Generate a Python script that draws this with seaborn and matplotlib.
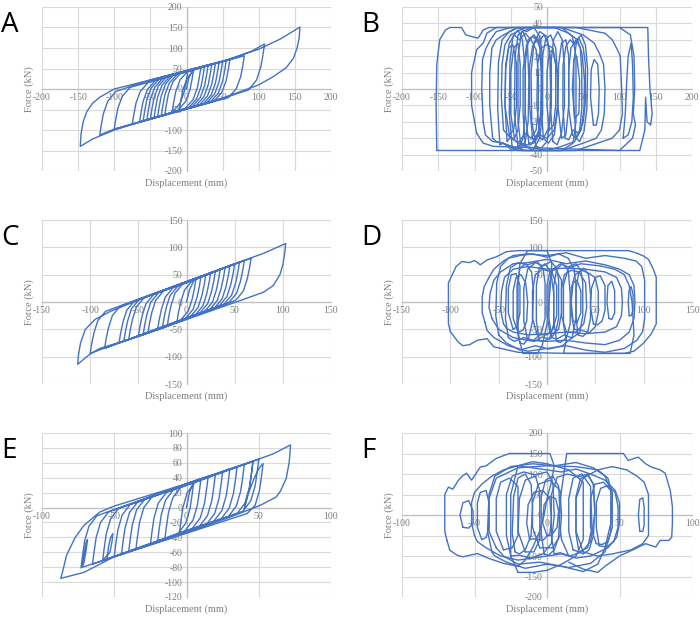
import matplotlib
matplotlib.use('Agg')
import matplotlib.pyplot as plt
import seaborn as sns
import pandas as pd
from matplotlib.ticker import MultipleLocator

# hysteresis traces (displacement mm, force kN)

# A: one continuous trace
a_disp = [
    0, 3, 8, 20,
    18, 15, 9, -2, -30,
    -28, -25, -19, -8, 35,
    33, 30, 24, 13, -55,
    -53, -50, -44, -33, 50,
    48, 45, 39, 28, -20,
    -18, -15, -9, 2, 60,
    58, 55, 49, 38, -75,
    -73, -70, -64, -53, 30,
    28, 25, 19, 8, -100,
    -98, -95, -89, -78, 80,
    78, 75, 69, 58, -45,
    -43, -40, -34, -23, 60, 90, 108,
    106, 103, 97, 86, 50, 0, -50, -100, -120,
    -118, -115, -109, -98, -50, 0, 50, 100, 130, 157,
    156, 153, 148, 138, 120, 100, 50, 0, -50, -100, -130, -147,
    -146, -143, -138, -130, -120, -100, -50, 0, 45,
    43, 40, 34, 23, -65,
    -63, -60, -54, -43, 10,
    8, 5, -1, -12, -35,
    -33, -30, -24, -13, 55,
    53, 50, 44, 33, -10,
    -8, -5, 1, 12, 25,
    23, 20, 14, 3, -50,
    -48, -45, -39, -28, 2,
    0, -3, -9, -20, -40,
    -38, -35, -29, -18, 40,
    38, 35, 29, 18, -60,
    -58, -55, -49, -38, 15,
]
a_force = [
    0, 25, 45, 54,
    31, 3, -26, -48, -63,
    -40, -12, 17, 39, 61,
    38, 10, -19, -41, -76,
    -53, -25, 4, 26, 68,
    45, 17, -12, -34, -58,
    -35, -7, 22, 44, 72,
    49, 21, -8, -30, -86,
    -63, -35, -6, 16, 59,
    36, 8, -21, -43, -98,
    -75, -47, -18, 4, 81,
    58, 30, 1, -21, -71,
    -48, -20, 9, 31, 72, 92, 110,
    85, 55, 22, -2, -23, -48, -73, -98, -112,
    -88, -60, -30, -6, 22, 45, 68, 97, 122, 151,
    125, 100, 75, 52, 30, 10, -22, -48, -73, -100, -122, -140,
    -110, -80, -55, -35, -20, 0, 22, 45, 65,
    42, 14, -15, -37, -81,
    -58, -30, -1, 21, 50,
    27, -1, -30, -52, -66,
    -43, -15, 14, 36, 70,
    47, 19, -10, -32, -53,
    -30, -2, 27, 49, 56,
    33, 5, -24, -46, -73,
    -50, -22, 7, 29, 45,
    22, -6, -35, -57, -68,
    -45, -17, 12, 35, 63,
    40, 12, -17, -39, -78,
    -55, -27, 2, 24, 52,
]

# B: friction loops capped near +/-37.5 kN, one list per loop
b_disp = [
    [-152, -153, -152, -148, -140, -134, -118, -112, -104, -95, -88, -80, 139, 140, 142, 145, 143, 138, 136, 135, 128, -152],
    [-97, -104, -104, -97, -88, -83, -70, 100, 115, 120, 121, 119, 122, 118, 100, -74, -88, -97],
    [-88, -90, -89, -84, -78, -70, -50, 40, 80, 90, 97, 101, 103, 104, 100, 90, 70, 40, -40, -60, -75, -85, -88],
    [-75, -79, -79, -76, -70, -60, -40, 20, 50, 65, 72, 78, 80, 79, 75, 68, 50, 20, -30, -55, -70, -75],
    [-60, -63, -62, -58, -50, -30, 10, 30, 42, 48, 52, 51, 47, 38, 20, 0, -30, -50, -60],
    [-45, -50, -50, -46, -40, -37, -37, -40, -45],
    [-25, -30, -30, -26, -18, -10, -8, -8, -12, -18, -25],
    [-15, -21, -22, -18, -10, 0, 4, 5, 4, 0, -8, -15],
    [3, 0, 0, 3, 8, 12, 12, 9, 3],
    [35, 30, 30, 33, 40, 46, 48, 48, 45, 40, 35],
    [38, 35, 37, 41, 45, 44, 38],
    [-35, -40, -40, -35, -20, 20, 35, 40, 40, 36, 20, -20, -35],
    [-52, -58, -57, -53, -47, -42, -42, -46, -52],
    [64, 60, 61, 65, 70, 72, 71, 68, 64],
    [-10, -14, -13, -8, 0, 8, 14, 15, 10, 0, -10],
    [20, 15, 16, 20, 26, 30, 30, 26, 20],
    [-40, -45, -44, -40, -33, -27, -25, -26, -30, -35, -40],
    [-5, -8, -7, -2, 5, 12, 15, 14, 10, 2, -5],
    [-55, -58, -57, -52, -45, -38, -30, -22, -15, -12, -12, -15, -22, -30, -40, -50, -55],
    [25, 22, 22, 26, 32, 38, 44, 50, 53, 53, 50, 44, 36, 30, 25],
    [-30, -33, -33, -28, -20, -12, -4, 2, 6, 6, 2, -6, -14, -22, -30],
    [-48, -52, -51, -47, -40, -34, -30, -30, -33, -40, -48],
    [-20, -24, -24, -20, -14, -9, -7, -8, -12, -17, -20],
    [8, 5, 5, 9, 15, 21, 24, 24, 20, 14, 8],
    [40, 37, 37, 41, 47, 53, 56, 55, 51, 45, 40],
    [-65, -68, -67, -62, -52, -40, -28, -18, -10, -6, -6, -10, -20, -34, -48, -60, -65],
    [105, 108, 110, 112, 116, 118, 119, 117, 112, 105],
]
b_force = [
    [-37.5, -10, 15, 30, 36, 37.5, 37.5, 33, 32, 31, 36, 37.5, 37.5, 20, 0, -15, -22, -20, -5, -25, -37.5, -37.5],
    [-27, -10, 10, 24, 28, 34, 37.5, 37.5, 33, 20, 0, -15, -22, -30, -37.5, -35, -33, -27],
    [-20, 0, 18, 25, 30, 35, 37.5, 37.5, 34, 30, 24, 20, 0, -15, -25, -30, -33, -37.5, -37.5, -33, -32, -28, -20],
    [-30, -10, 10, 25, 30, 33, 37.5, 37.5, 33, 28, 22, 15, 0, -15, -25, -30, -33, -37.5, -37.5, -34, -32, -30],
    [-25, -5, 15, 27, 33, 37.5, 37.5, 34, 30, 22, 5, -12, -25, -32, -35, -37.5, -35, -30, -25],
    [-30, -15, 10, 25, 28, 15, -10, -25, -30],
    [-33, -15, 15, 30, 33, 28, 10, -15, -28, -33, -33],
    [-35, -20, 10, 28, 35, 32, 20, 0, -20, -32, -36, -35],
    [-25, -10, 10, 22, 24, 15, -10, -22, -25],
    [-28, -12, 12, 25, 30, 25, 10, -12, -25, -30, -28],
    [-18, 0, 18, 20, 5, -15, -18],
    [-37.5, -20, 20, 35, 37.5, 37.5, 32, 20, -20, -33, -37.5, -37.5, -37.5],
    [-28, -10, 12, 25, 27, 15, -10, -25, -28],
    [-22, -5, 12, 18, 15, 0, -15, -22, -22],
    [-28, -10, 15, 25, 27, 25, 10, -10, -25, -30, -28],
    [-30, -10, 15, 28, 30, 20, -10, -28, -30],
    [-35, -15, 20, 33, 35, 28, 5, -20, -32, -36, -35],
    [-30, -10, 18, 30, 33, 25, 5, -15, -28, -33, -30],
    [-32, -10, 15, 28, 33, 30, 34, 30, 24, 10, -12, -25, -30, -27, -33, -29, -32],
    [-30, -12, 14, 26, 30, 27, 31, 25, 15, -8, -20, -27, -25, -31, -30],
    [-34, -15, 12, 27, 32, 29, 33, 27, 15, -10, -24, -31, -28, -34, -34],
    [-36, -15, 18, 32, 36, 30, 12, -14, -30, -37, -36],
    [-30, -10, 14, 26, 30, 24, 8, -12, -26, -31, -30],
    [-32, -12, 14, 30, 35, 30, 14, -10, -27, -34, -32],
    [-30, -10, 16, 30, 33, 27, 12, -12, -26, -32, -30],
    [-34, -12, 16, 30, 35, 37.5, 35, 37.5, 32, 20, -15, -30, -37.5, -33, -37.5, -33, -34],
    [-30, -15, 5, 20, 28, 15, -5, -20, -28, -30],
]

# C: one continuous trace
c_disp = [
    0, 3, 8, 20,
    18.5, 16, 12, 4, -30,
    -28.5, -26, -22, -14, 40,
    38.5, 36, 32, 24, -50,
    -48.5, -46, -42, -34, 25,
    23.5, 21, 17, 9, -70,
    -68.5, -66, -62, -54, 45,
    43.5, 41, 37, 29, -20,
    -18.5, -16, -12, -4, 60,
    58.5, 56, 52, 44, -85,
    -83.5, -81, -77, -69, 0, 50, 80, 103,
    102, 100, 97, 90, 80, 50, 0, -50, -90, -100, -113,
    -112, -110, -105, -95, -80, -55, 0, 67,
    65.5, 63, 59, 51, -40,
    -38.5, -36, -32, -24, 30,
    28.5, 26, 22, 14, -100,
    -98.5, -96, -92, -84, 10,
    8.5, 6, 2, -6, -60,
    -58.5, -56, -52, -44, 50,
    48.5, 46, 42, 34, -10,
    -8.5, -6, -2, 6, 35,
    33.5, 31, 27, 19, -45,
    -43.5, -41, -37, -29, 15,
    13.5, 11, 7, -1, -25,
    -23.5, -21, -17, -9, 55,
    53.5, 51, 47, 39, -65,
    -63.5, -61, -57, -49, 20,
]
c_force = [
    0, 22, 40, 50,
    33, 12, -10, -27, -51,
    -34, -13, 9, 26, 63,
    46, 25, 3, -14, -63,
    -46, -25, -3, 14, 53,
    36, 15, -7, -24, -75,
    -58, -37, -15, 2, 66,
    49, 28, 6, -11, -44,
    -27, -6, 16, 33, 76,
    59, 38, 16, -1, -85,
    -68, -47, -25, -8, 37, 70, 89, 107,
    90, 68, 50, 30, 18, -1, -32, -63, -85, -95, -114,
    -95, -75, -50, -32, -18, 0, 37, 80,
    63, 42, 20, 3, -57,
    -40, -19, 3, 20, 57,
    40, 19, -3, -20, -94,
    -77, -56, -34, -17, 44,
    27, 6, -16, -33, -69,
    -52, -31, -9, 8, 70,
    53, 32, 10, -7, -38,
    -21, 0, 22, 39, 60,
    43, 22, 0, -17, -60,
    -43, -22, 0, 17, 47,
    30, 9, -13, -30, -48,
    -31, -10, 12, 29, 73,
    56, 35, 13, -4, -72,
    -55, -34, -12, 5, 50,
]

# D: friction loops capped near +/-94 kN
d_disp = [
    [-100, -102, -102, -102, -98, -94, -88, -80, -75, -69, -62, -52, -42, -30, 84, 92, 100, 105, 110, 113, 113, 113, 108, 100, 90, 80, 20, -30, -40, -55, -62, -72, -80, -87, -92, -100],
    [-64, -67, -67, -65, -60, -55, -45, -35, -20, 0, 20, 40, 60, 80, 92, 98, 101, 101, 101, 99, 93, 80, 60, 40, 20, 0, -20, -40, -55, -62, -64],
    [-30, -35, -35, -32, -27, -22, -20, -21, -25, -30],
    [-57, -60, -59, -55, -48, -35, -20, 0, 20, 40, 60, 75, 85, 90, 91, 90, 85, 75, 60, 40, 20, 0, -20, -35, -50, -57],
    [85, 84, 85, 87, 89, 89, 87, 85],
    [-10, -15, -15, -12, -5, 5, 10, 10, 6, 0, -10],
    [-45, -48, -47, -44, -35, -20, 0, 20, 40, 60, 72, 77, 78, 77, 72, 60, 40, 20, 0, -20, -35, -42, -45],
    [20, 15, 15, 18, 25, 33, 40, 41, 38, 30, 20],
    [27, 25, 27, 31, 35, 35, 31, 27],
    [48, 45, 46, 50, 55, 60, 60, 57, 52, 48],
    [-25, -30, -30, -28, -20, 0, 5, 3, 0, -5, -10, -25],
    [64, 62, 63, 67, 70, 70, 67, 64],
    [-35, -40, -40, -37, -32, -28, -28, -31, -35],
    [3, 0, 0, 3, 9, 15, 15, 12, 6, 3],
    [20, 17, 17, 22, 35, 55, 70, 80, 85, 88, 90, 86, 17, 20],
    [-20, -24, -24, -20, -12, -4, 4, 10, 12, 12, 9, 3, -5, -13, -20],
    [5, 2, 2, 6, 14, 22, 30, 35, 37, 37, 34, 26, 18, 10, 5],
    [-40, -43, -42, -38, -30, -20, -10, -4, -2, -2, -6, -14, -24, -34, -40],
    [28, 25, 25, 29, 36, 44, 50, 53, 53, 50, 44, 36, 28],
    [-28, -31, -31, -28, -22, -16, -14, -15, -19, -24, -28],
    [-8, -11, -11, -8, -2, 4, 7, 7, 3, -3, -8],
    [10, 7, 7, 10, 16, 22, 24, 24, 20, 14, 10],
    [32, 30, 30, 33, 38, 43, 45, 45, 42, 37, 32],
    [-50, -53, -52, -48, -40, -28, -15, 0, 12, 22, 28, 30, 30, 26, 16, 2, -12, -28, -42, -50],
]
d_force = [
    [-54, -40, 0, 35, 50, 65, 74, 72, 76, 68, 77, 83, 92, 94, 94, 90, 84, 78, 60, 45, 0, -40, -58, -75, -90, -94, -94, -92, -88, -82, -67, -70, -78, -80, -73, -54],
    [-38, -20, 10, 28, 45, 60, 75, 85, 88, 85, 90, 80, 85, 80, 75, 65, 40, 0, -30, -54, -70, -85, -92, -88, -80, -85, -90, -80, -65, -52, -38],
    [-55, -30, 20, 45, 50, 35, 0, -35, -52, -55],
    [-30, -10, 15, 40, 55, 70, 72, 78, 70, 75, 68, 60, 50, 30, 0, -30, -55, -70, -78, -75, -70, -72, -70, -65, -50, -30],
    [-25, 0, 22, 28, 15, -15, -25, -25],
    [-60, -30, 20, 50, 60, 55, 30, -25, -50, -60, -60],
    [-40, -15, 20, 45, 60, 65, 60, 62, 60, 55, 45, 25, 0, -25, -45, -55, -58, -55, -58, -60, -55, -48, -40],
    [-55, -25, 25, 50, 58, 55, 35, -10, -40, -55, -55],
    [-35, 0, 35, 40, 20, -20, -38, -35],
    [-40, -10, 25, 45, 48, 30, -15, -35, -42, -40],
    [-94, -60, 30, 70, 94, 94, 70, 20, -40, -80, -94, -94],
    [-30, 0, 30, 38, 20, -20, -32, -30],
    [-50, -20, 25, 50, 52, 30, -20, -45, -50],
    [-55, -25, 30, 55, 60, 40, -20, -50, -58, -55],
    [-70, -40, 30, 62, 70, 66, 60, 50, 30, 0, -60, -94, -94, -70],
    [-70, -35, 25, 60, 72, 66, 74, 62, 40, -30, -55, -68, -64, -72, -70],
    [-65, -30, 30, 60, 70, 64, 70, 58, 35, -25, -55, -66, -60, -68, -65],
    [-65, -30, 30, 62, 72, 68, 74, 60, 35, -30, -58, -70, -65, -72, -65],
    [-50, -20, 25, 50, 58, 52, 44, 20, -20, -45, -56, -52, -50],
    [-75, -40, 30, 62, 70, 55, 20, -35, -66, -77, -75],
    [-70, -35, 30, 62, 70, 55, 15, -40, -65, -72, -70],
    [-72, -35, 30, 60, 70, 58, 15, -40, -66, -74, -72],
    [-60, -25, 25, 55, 62, 50, 15, -30, -55, -63, -60],
    [-60, -25, 35, 65, 80, 85, 88, 82, 88, 80, 60, 30, -30, -65, -80, -86, -80, -88, -75, -60],
]

# E: one continuous trace
e_disp = [
    0, 2, 5, 15,
    14, 12.5, 9.5, 4, -25,
    -24, -22.5, -19.5, -14, 30,
    29, 27.5, 24.5, 19, -45,
    -44, -42.5, -39.5, -34, 20,
    19, 17.5, 14.5, 9, -55,
    -54, -52.5, -51, -51.5, -53, -58,
    -57, -55.5, -52.5, -47, 40,
    39, 37.5, 34.5, 29, -15,
    -14, -12.5, -9.5, -4, 46,
    45, 43.5, 41, 40, 43, 47, 50, 53, 52, 50.5, 47.5, 42, -72,
    -71, -69.5, -68.5, -69.5, -71, -73,
    -72, -70.5, -67.5, -62, 0, 40, 60, 72,
    71.5, 71, 69, 65, 62, 51, 30, 0, -50, -71, -87,
    -86, -85, -83, -77, -71, -60, -50, 0, 46,
    45, 43.5, 40.5, 35, -35,
    -34, -32.5, -29.5, -24, 5,
    4, 2.5, -0.5, -6, -65,
    -64, -62.5, -59.5, -54, 35,
    34, 32.5, 29.5, 24, -5,
    -4, -2.5, 0.5, 6, 25,
    24, 22.5, 19.5, 14, -40,
    -39, -37.5, -34.5, -29, 10,
    9, 7.5, 4.5, -1, -20,
    -19, -17.5, -14.5, -9, 50,
    49, 47.5, 44.5, 39, -50,
    -49, -47.5, -44.5, -39, -10,
]
e_force = [
    0, 20, 35, 42,
    26, 6, -14, -28, -50,
    -34, -14, 6, 20, 52,
    36, 16, -4, -18, -63,
    -47, -27, -7, 7, 45,
    29, 9, -11, -25, -69,
    -53, -40, -35, -45, -60, -71,
    -55, -35, -15, -1, 58,
    42, 22, 2, -12, -43,
    -27, -7, 13, 27, 62,
    46, 26, 8, -2, 20, 40, 52, 59, 43, 23, 3, -8, -80,
    -64, -47, -43, -58, -74, -81,
    -65, -45, -25, -11, 32, 58, 72, 84,
    70, 60, 39, 22, 14, 3, -13, -33, -66, -87, -95,
    -88, -80, -64, -40, -24, -6, 2, 32, 62,
    46, 26, 6, -8, -56,
    -40, -20, 0, 14, 35,
    19, -1, -21, -35, -76,
    -60, -40, -20, -6, 55,
    39, 19, -1, -15, -36,
    -20, 0, 20, 34, 48,
    32, 12, -8, -22, -59,
    -43, -23, -3, 11, 39,
    23, 3, -17, -31, -46,
    -30, -10, 10, 24, 65,
    49, 29, 9, -5, -66,
    -50, -30, -10, 4, 25,
]

# F: friction loops capped near +150 kN
f_disp = [
    [-69, -70.5, -70.5, -70.5, -68, -65, -61, -58, -55.5, -52, -46, -42, -35, -26, 2, 5, 3, 0, -2, -5, -10, -15, -20, -30, -40, -48, -58, -62, -67, -69],
    [-45, -48, -48, -46, -42, -40, -40, -42, -45],
    [15, 10, 8, 10, 13.6, 52.7, 56, 60, 63, 68, 72, 78, 81.5, 85, 86.5, 86.5, 86, 84, 78, 75, 68, 58, 50, 40, 35, 25, 15],
    [-30, -35, -35, -32, -26, -20, -20, -24, -30],
    [-50, -52, -52, -50, -45, -38, -30, -20, -10, 0, 10, 20, 30, 40, 47, 50, 50, 48, 42, 30, 20, 10, 0, -10, -20, -32, -42, -48, -50],
    [-15, -20, -19, -15, -8, -5, -5, -9, -15],
    [25, 20, 20, 25, 35, 45, 55, 62, 67, 70, 70, 70, 66, 58, 45, 35, 25],
    [-5, -10, -10, -6, 2, 9, 10, 9, 4, -5],
    [64, 63, 64, 66, 67, 67, 66, 64],
    [18, 15, 15, 18, 24, 30, 31, 28, 22, 18],
    [-58, -60, -58, -54, -51, -51, -54, -58],
    [34, 30, 30, 33, 39, 45, 45, 42, 38, 34],
    [-20, -25, -25, -20, -10, 0, 15, 25, 25, 20, 10, 0, -10, -20],
    [-35, -40, -40, -35, -20, 0, 20, 35, 42, 45, 44, 40, 35, 25, 10, -5, -20, -30, -35],
    [0, -3, -2, 2, 6, 8, 7, 3, 0],
    [-25, -28, -28, -24, -16, -8, 0, 4, 5, 3, -3, -11, -19, -25],
    [5, 3, 3, 7, 14, 22, 28, 32, 33, 30, 24, 16, 9, 5],
    [-12, -14, -13, -9, -3, 2, 3, 2, -3, -9, -12],
    [36, 34, 34, 37, 42, 47, 49, 49, 46, 41, 36],
    [-22, -24, -23, -20, -15, -11, -10, -11, -15, -19, -22],
    [-2, -4, -4, -1, 4, 8, 9, 8, 5, 1, -2],
    [22, 20, 20, 23, 28, 32, 33, 32, 29, 25, 22],
    [-38, -41, -40, -36, -25, -10, 5, 20, 32, 40, 44, 44, 40, 30, 15, 0, -15, -28, -36, -38],
]
f_force = [
    [-62, -40, 0, 50, 68, 63, 85, 96, 102, 85, 117, 120, 138, 150, 150, 120, 80, 40, 0, -40, -80, -110, -125, -118, -106, -94, -102, -98, -86, -62],
    [-60, -30, 30, 55, 60, 30, -30, -55, -60],
    [-100, -60, 0, 60, 150, 150, 133, 138, 141, 125, 117, 110, 102, 60, 20, -20, -54, -62, -62, -78, -70, -87, -100, -125, -140, -132, -115],
    [-85, -40, 40, 80, 90, 70, -50, -80, -85],
    [-50, -20, 30, 55, 75, 95, 110, 120, 115, 110, 105, 112, 100, 85, 60, 30, -20, -55, -80, -100, -105, -95, -100, -105, -110, -100, -80, -65, -50],
    [-90, -40, 40, 85, 95, 60, -60, -90, -90],
    [-90, -40, 40, 90, 110, 118, 110, 95, 80, 50, 0, -50, -70, -85, -95, -100, -90],
    [-80, -30, 30, 75, 85, 60, 0, -50, -80, -80],
    [-40, 0, 38, 42, 20, -25, -40, -40],
    [-85, -40, 40, 90, 100, 70, -30, -80, -90, -85],
    [-30, 0, 30, 35, 10, -20, -32, -30],
    [-70, -30, 40, 75, 80, 55, -30, -65, -72, -70],
    [-140, -100, 50, 120, 130, 125, 110, 80, -60, -100, -120, -135, -140, -140],
    [-80, -40, 40, 90, 115, 120, 118, 110, 90, 50, -20, -80, -120, -138, -125, -115, -120, -100, -80],
    [-50, -20, 25, 45, 40, 10, -30, -50, -50],
    [-100, -50, 50, 95, 105, 98, 105, 80, 0, -70, -95, -105, -98, -100],
    [-95, -50, 50, 92, 100, 93, 100, 75, 0, -65, -90, -100, -92, -95],
    [-60, -20, 25, 55, 60, 40, -10, -45, -62, -58, -60],
    [-75, -30, 30, 65, 72, 55, 20, -30, -65, -78, -75],
    [-90, -45, 45, 90, 100, 75, 20, -50, -85, -95, -90],
    [-95, -45, 45, 85, 95, 70, 10, -55, -85, -98, -95],
    [-90, -45, 45, 88, 98, 75, 15, -50, -85, -95, -90],
    [-90, -40, 50, 95, 118, 125, 120, 128, 115, 95, 60, -40, -90, -118, -128, -120, -130, -115, -100, -90],
]


def loops_frame(disp_loops, force_loops):
    rows = []
    for i, (xs, ys) in enumerate(zip(disp_loops, force_loops)):
        assert len(xs) == len(ys), (i, len(xs), len(ys))
        for x, y in zip(xs, ys):
            rows.append((i, x, y))
    return pd.DataFrame(rows, columns=['loop', 'disp', 'force'])


sns.set_theme(style='white')
plt.rcParams['font.family'] = ['Liberation Serif', 'DejaVu Serif']
plt.rcParams['axes.unicode_minus'] = False

LINE = '#4472C4'
GRID = '#D9D9D9'
TEXT = '#7F7F7F'

W, H = 700, 619
fig = plt.figure(figsize=(7, 6.19), dpi=100)

# letter, data, xlim, xstep, ylim, ystep, box in pixels (left, top, right, bottom)
panels = [
    ('A', loops_frame([a_disp], [a_force]), (-200, 200), 50, (-200, 200), 50, (42, 7, 331, 171)),
    ('B', loops_frame(b_disp, b_force), (-200, 200), 50, (-50, 50), 10, (402, 7, 692, 171)),
    ('C', loops_frame([c_disp], [c_force]), (-150, 150), 50, (-150, 150), 50, (42, 220, 331, 384)),
    ('D', loops_frame(d_disp, d_force), (-150, 150), 50, (-150, 150), 50, (402, 220, 692, 384)),
    ('E', loops_frame([e_disp], [e_force]), (-100, 100), 50, (-120, 100), 20, (42, 433, 331, 597)),
    ('F', loops_frame(f_disp, f_force), (-100, 100), 50, (-200, 200), 50, (402, 433, 692, 597)),
]

for letter, df, xlim, xstep, ylim, ystep, box in panels:
    l, t, r, b = box
    ax = fig.add_axes([l / W, 1 - b / H, (r - l) / W, (b - t) / H])
    sns.lineplot(data=df, x='disp', y='force', units='loop', estimator=None, sort=False,
                 color=LINE, lw=1.0, legend=False, ax=ax)
    ax.set_xlim(xlim)
    ax.set_ylim(ylim)
    ax.xaxis.set_major_locator(MultipleLocator(xstep))
    ax.yaxis.set_major_locator(MultipleLocator(ystep))
    ax.grid(True, color=GRID, lw=0.8)
    ax.set_axisbelow(True)
    for s in ['top', 'right']:
        ax.spines[s].set_visible(False)
    for s in ['left', 'bottom']:
        ax.spines[s].set_position(('data', 0))
        ax.spines[s].set_color('#BFBFBF')
        ax.spines[s].set_linewidth(0.9)
        ax.spines[s].set_zorder(1)
    ax.tick_params(length=0, labelsize=7, colors=TEXT, pad=3)
    ax.set_xlabel('Displacement (mm)', fontsize=7.5, color=TEXT)
    ax.set_ylabel('Force (kN)', fontsize=7.5, color=TEXT)
    ax.xaxis.set_label_coords(0.5, -0.045)
    ax.yaxis.set_label_coords(-0.028, 0.5)
    # panel letter to the upper left
    fig.text((l - 41) / W, 1 - (t + 25) / H, letter, fontsize=20, ha='left', va='baseline',
             family=['Open Sans', 'DejaVu Sans'], color='black')

fig.savefig('out.png', dpi=100)
